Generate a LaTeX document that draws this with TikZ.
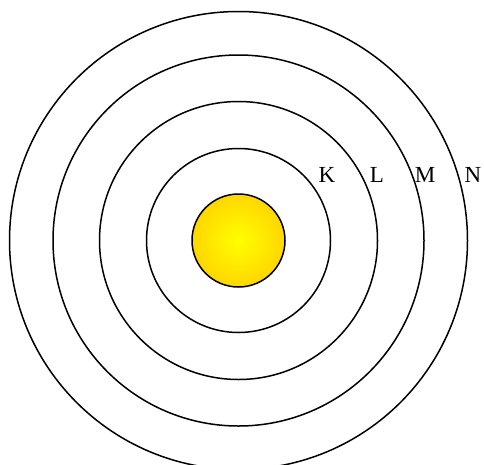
\documentclass[tikz,border=0pt]{standalone}
\usepackage{fontspec}
\setmainfont{Liberation Serif}
\definecolor{sunin}{RGB}{255,255,0}
\definecolor{sunout}{RGB}{255,196,0}
\pgfdeclareradialshading{sunshade}{\pgfpoint{0bp}{0bp}}{color(0bp)=(sunin); color(36bp)=(sunout); color(50bp)=(sunout)}
\begin{document}
\begin{tikzpicture}[x=1pt,y=1pt,
  shell/.style={circle, draw, line width=1.5pt, inner sep=0pt},
  lbl/.style={font=\fontsize{23}{23}\selectfont, anchor=base, inner sep=0pt}]
\useasboundingbox (0,0) rectangle (484,-464);
\coordinate (c) at (238.5,-240.5);
\node[shell, minimum size=458pt] (n) at (c) {};
\node[shell, minimum size=371pt] (m) at (c) {};
\node[shell, minimum size=278pt] (l) at (c) {};
\node[shell, minimum size=184pt] (k) at (c) {};
\node[shell, minimum size=93pt, shading=sunshade] (sun) at (c) {};
\node[lbl] (tk) at (327,-182) {K};
\node[lbl] (tl) at (377,-182) {L};
\node[lbl] (tm) at (425,-182) {M};
\node[lbl] (tn) at (473,-182) {N};
\end{tikzpicture}
\end{document}
